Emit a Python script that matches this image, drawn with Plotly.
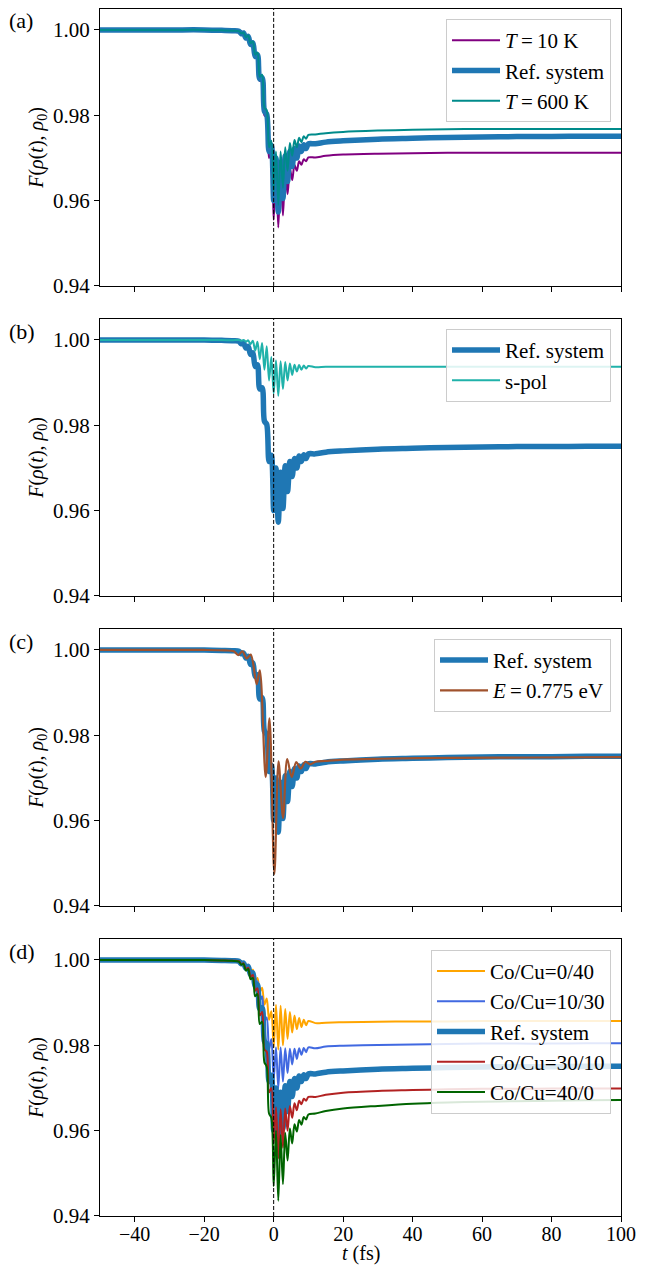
import plotly.graph_objects as go

# ---------------- data ----------------
T_GRID = [-50, -30, -20, -15, -12,
          -10, -9.33, -8.67, -8, -7.33, -6.67, -6, -5.33, -4.67, -4, -3.33, -2.67, -2, -1.33, -0.67,
          0, 0.67, 1.33, 2, 2.67, 3.33, 4, 4.67, 5.33, 6, 6.67, 7.33, 8, 8.67, 9.33, 10,
          12, 15, 20, 30, 40, 50, 60, 70, 80, 90, 100]

F_REF = [1.0000, 1.0000, 1.0000, 0.9999, 0.9998,
         0.9997, 0.9991, 0.9993, 0.9981, 0.9985, 0.9966, 0.9970, 0.9938, 0.9942, 0.9885, 0.9888, 0.9810, 0.9802, 0.9715, 0.9730,
         0.9600, 0.9700, 0.9573, 0.9690, 0.9605, 0.9705, 0.9645, 0.9715, 0.9680, 0.9722, 0.9700, 0.9728, 0.9715, 0.9731, 0.9722, 0.9733,
         0.9733, 0.9737, 0.9740, 0.9744, 0.9746, 0.9748, 0.9749, 0.9750, 0.9750, 0.9751, 0.9751]

F_T10 = [1.0000, 1.0000, 1.0000, 0.9999, 0.9998,
         0.9997, 0.9990, 0.9993, 0.9980, 0.9984, 0.9964, 0.9968, 0.9935, 0.9940, 0.9880, 0.9885, 0.9800, 0.9795, 0.9700, 0.9712,
         0.9555, 0.9680, 0.9537, 0.9665, 0.9565, 0.9668, 0.9615, 0.9676, 0.9648, 0.9684, 0.9670, 0.9692, 0.9684, 0.9697, 0.9692, 0.9701,
         0.9701, 0.9705, 0.9708, 0.9710, 0.9711, 0.9712, 0.9712, 0.9712, 0.9712, 0.9712, 0.9712]

F_T600 = [1.0000, 1.0000, 1.0000, 0.9999, 0.9998,
          0.9997, 0.9992, 0.9994, 0.9983, 0.9987, 0.9969, 0.9973, 0.9942, 0.9947, 0.9890, 0.9895, 0.9818, 0.9812, 0.9725, 0.9740,
          0.9620, 0.9715, 0.9590, 0.9715, 0.9630, 0.9725, 0.9670, 0.9735, 0.9705, 0.9742, 0.9725, 0.9747, 0.9737, 0.9751, 0.9745, 0.9754,
          0.9755, 0.9758, 0.9761, 0.9764, 0.9766, 0.9767, 0.9768, 0.9768, 0.9768, 0.9768, 0.9768]

F_SPOL = [1.0000, 1.0000, 1.0000, 1.0000, 0.9999,
          1.0000, 0.9998, 1.0000, 0.9996, 0.9999, 0.9990, 0.9998, 0.9975, 0.9996, 0.9955, 0.9993, 0.9930, 0.9985, 0.9905, 0.9960,
          0.9875, 0.9952, 0.9869, 0.9950, 0.9885, 0.9948, 0.9905, 0.9945, 0.9918, 0.9942, 0.9926, 0.9941, 0.9930, 0.9940, 0.9933, 0.9939,
          0.9936, 0.9937, 0.9937, 0.9937, 0.9937, 0.9937, 0.9937, 0.9937, 0.9937, 0.9937, 0.9937]

T_E775 = [-50, -20, -14, -11.5, -10.2, -9.0, -7.8, -6.6, -4.9, -4.0, -2.3, -1.2, 0.2, 1.4, 2.7, 3.9,
          5.2, 6.5, 7.8, 9.1, 10.5, 12, 15, 20, 30, 50, 75, 100]
F_E775 = [1.0000, 1.0000, 0.9999, 0.9997, 0.9988, 0.9997, 0.9980, 0.9989, 0.9920, 0.9952, 0.9702, 0.9840,
          0.9475, 0.9739, 0.9606, 0.9744, 0.9702, 0.9737, 0.9722, 0.9738, 0.9732, 0.9738, 0.9740, 0.9743,
          0.9745, 0.9747, 0.9748, 0.9749]

F_CO0 = [1.0000, 1.0000, 1.0000, 0.9999, 0.9998,
         0.9997, 0.9992, 0.9994, 0.9984, 0.9988, 0.9972, 0.9977, 0.9952, 0.9958, 0.9925, 0.9935, 0.9895, 0.9910, 0.9860, 0.9880,
         0.9795, 0.9895, 0.9790, 0.9893, 0.9800, 0.9885, 0.9815, 0.9878, 0.9830, 0.9870, 0.9838, 0.9864, 0.9843, 0.9860, 0.9847, 0.9857,
         0.9852, 0.9853, 0.9854, 0.9855, 0.9856, 0.9856, 0.9857, 0.9857, 0.9857, 0.9857, 0.9857]

F_CO10 = [1.0000, 1.0000, 1.0000, 0.9999, 0.9998,
          0.9997, 0.9991, 0.9993, 0.9982, 0.9986, 0.9968, 0.9973, 0.9944, 0.9950, 0.9905, 0.9915, 0.9855, 0.9865, 0.9790, 0.9815,
          0.9720, 0.9795, 0.9700, 0.9795, 0.9715, 0.9793, 0.9735, 0.9792, 0.9755, 0.9792, 0.9768, 0.9793, 0.9778, 0.9794, 0.9784, 0.9795,
          0.9793, 0.9797, 0.9799, 0.9801, 0.9802, 0.9803, 0.9804, 0.9804, 0.9804, 0.9805, 0.9805]

F_CO30 = [1.0000, 1.0000, 1.0000, 0.9999, 0.9998,
          0.9997, 0.9990, 0.9992, 0.9978, 0.9982, 0.9960, 0.9965, 0.9928, 0.9934, 0.9870, 0.9878, 0.9790, 0.9785, 0.9690, 0.9700,
          0.9570, 0.9655, 0.9535, 0.9650, 0.9560, 0.9652, 0.9600, 0.9658, 0.9630, 0.9664, 0.9648, 0.9670, 0.9662, 0.9675, 0.9670, 0.9679,
          0.9679, 0.9684, 0.9689, 0.9693, 0.9695, 0.9697, 0.9698, 0.9698, 0.9699, 0.9699, 0.9699]

F_CO40 = [1.0000, 1.0000, 1.0000, 0.9999, 0.9998,
          0.9996, 0.9989, 0.9991, 0.9975, 0.9979, 0.9955, 0.9958, 0.9915, 0.9920, 0.9850, 0.9855, 0.9760, 0.9750, 0.9640, 0.9630,
          0.9470, 0.9600, 0.9436, 0.9590, 0.9475, 0.9595, 0.9530, 0.9605, 0.9570, 0.9615, 0.9598, 0.9625, 0.9614, 0.9632, 0.9626, 0.9638,
          0.9640, 0.9646, 0.9652, 0.9658, 0.9663, 0.9666, 0.9668, 0.9669, 0.9670, 0.9671, 0.9672]

X_TICKS = [-40, -20, 0, 20, 40, 60, 80, 100]
Y_TICKS = [0.94, 0.96, 0.98, 1.00]
PANEL_LABELS = ["(a)", "(b)", "(c)", "(d)"]
X_TITLE = "<i>t</i> (fs)"
Y_TITLE = "<i>F</i>(<i>ρ</i>(<i>t</i>), <i>ρ</i><sub>0</sub>)"

# ---------------- styling / layout ----------------
FONT = "Liberation Serif, Times New Roman, serif"
OFF = 8                      # page body margin of the html page
PAGE_W, PAGE_H = 649, 1265
W, H = PAGE_W - OFF, PAGE_H - OFF
PLOT_L, PLOT_R = 100, 621    # page pixels
PANEL_TOP0 = 9
PANEL_H = 277
PANEL_STEP = 310.1
PLOT_B = PANEL_TOP0 + 3 * PANEL_STEP + PANEL_H
ML = PLOT_L - OFF
MR = PAGE_W - PLOT_R
MT = PANEL_TOP0 - OFF
MB = H - (PLOT_B - OFF)
PH = H - MT - MB
PW = W - ML - MR

REF_COLOR = "#1f77b4"
REF_NAME = "Ref. system"


def py(page_y):
    return 1 - (page_y - PANEL_TOP0) / PH


def px(page_x):
    return (page_x - PLOT_L) / PW


fig = go.Figure()

panels = [
    [(F_T10, T_GRID, "<i>T</i>\u2009=\u200910 K", "#800080", 2),
     (F_REF, T_GRID, REF_NAME, REF_COLOR, 5.5),
     (F_T600, T_GRID, "<i>T</i>\u2009=\u2009600 K", "#008b8b", 2)],
    [(F_REF, T_GRID, REF_NAME, REF_COLOR, 5.5),
     (F_SPOL, T_GRID, "s-pol", "#20b2aa", 2)],
    [(F_REF, T_GRID, REF_NAME, REF_COLOR, 5.5),
     (F_E775, T_E775, "<i>E</i>\u2009=\u20090.775 eV", "#a0522d", 2.2)],
    [(F_CO0, T_GRID, "Co/Cu=0/40", "#ffa500", 2),
     (F_CO10, T_GRID, "Co/Cu=10/30", "#4169e1", 2),
     (F_REF, T_GRID, REF_NAME, REF_COLOR, 5.5),
     (F_CO30, T_GRID, "Co/Cu=30/10", "#b22222", 2),
     (F_CO40, T_GRID, "Co/Cu=40/0", "#006400", 2)],
]

legend_boxes = [(19, 611), (329, 611), (639, 611), (950, 611)]

for k, series in enumerate(panels):
    xa = "x" if k == 0 else f"x{k+1}"
    ya = "y" if k == 0 else f"y{k+1}"
    lg = "legend" if k == 0 else f"legend{k+1}"
    for vals, ts, name, color, lw in series:
        fig.add_trace(go.Scatter(
            x=ts, y=vals, mode="lines", name=name,
            line=dict(color=color, width=lw, shape="spline", smoothing=0.9),
            xaxis=xa, yaxis=ya, legend=lg, showlegend=True))

    top_pix = PANEL_TOP0 + k * PANEL_STEP
    bot_pix = top_pix + PANEL_H
    dom = [max(0.0, py(bot_pix)), min(1.0, py(top_pix))]
    xkey = "xaxis" if k == 0 else f"xaxis{k+1}"
    ykey = "yaxis" if k == 0 else f"yaxis{k+1}"
    fig.layout[xkey] = dict(
        domain=[0, 1], anchor=ya, range=[-50, 100], tickvals=X_TICKS,
        ticks="outside", ticklen=5, tickwidth=1, tickcolor="black",
        showline=True, linecolor="black", linewidth=1, mirror=True,
        showgrid=False, zeroline=False, showticklabels=(k == 3),
        tickfont=dict(family=FONT, size=20, color="black"),
        ticklabelstandoff=-5,
        automargin=False,
    )
    fig.layout[ykey] = dict(
        domain=dom, anchor=xa, range=[0.94, 1.0049], tickvals=Y_TICKS,
        tickformat=".2f", ticks="outside", ticklen=5, tickwidth=1, tickcolor="black",
        showline=True, linecolor="black", linewidth=1, mirror=True,
        showgrid=False, zeroline=False, automargin=False,
        tickfont=dict(family=FONT, size=21, color="black"),
        title=dict(text=Y_TITLE, font=dict(family=FONT, size=20, color="black"), standoff=4),
    )
    # dashed vertical line at t = 0
    fig.add_shape(type="line", xref=xa, yref=f"{ya} domain", x0=0, x1=0, y0=0, y1=1,
                  line=dict(color="black", width=1, dash="4px,2px"))
    # panel label
    fig.add_annotation(text=PANEL_LABELS[k], xref="paper", yref="paper",
                       x=px(7), y=py(top_pix + 12),
                       xanchor="left", yanchor="middle", showarrow=False,
                       font=dict(family=FONT, size=22, color="black"))
    # legend
    ltop, lright = legend_boxes[k]
    fig.layout[lg] = dict(
        x=px(lright), y=py(ltop), xanchor="right", yanchor="top",
        bgcolor="rgba(255,255,255,0.85)", bordercolor="#cccccc", borderwidth=1,
        font=dict(family=FONT, size=21, color="black"), tracegroupgap=0,
        itemwidth=48,
    )

# x-axis title (below the bottom panel)
fig.add_annotation(text=X_TITLE, xref="paper", yref="paper",
                   x=0.5, y=py(1266), xanchor="center", yanchor="bottom",
                   borderpad=0, showarrow=False,
                   font=dict(family=FONT, size=20, color="black"))

fig.update_layout(
    width=W, height=H,
    margin=dict(l=ML, r=MR, t=MT, b=MB),
    paper_bgcolor="white", plot_bgcolor="white",
    font=dict(family=FONT, size=21, color="black"),
)

fig.write_html("out.html")
